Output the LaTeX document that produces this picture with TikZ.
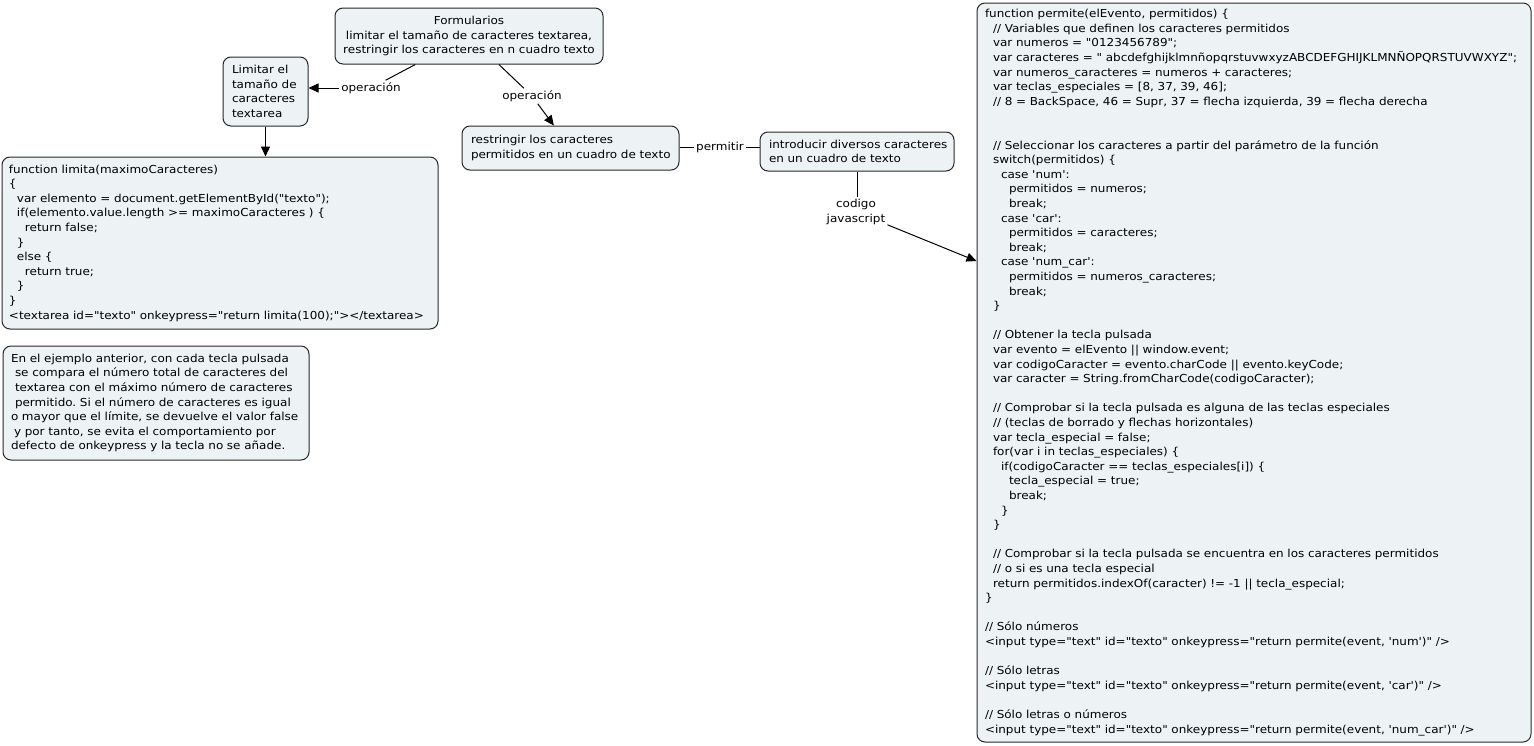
\documentclass[tikz,border=0pt]{standalone}
\usepackage{fontspec}
\setmainfont{DejaVu Sans}[Ligatures=TeXOff,FakeStretch=1.09]
\usetikzlibrary{arrows.meta}
\definecolor{boxfill}{RGB}{237,242,245}
\definecolor{boxline}{RGB}{40,40,40}
\newlength\indstep \setlength\indstep{8pt}
\newcommand{\cl}[2][0]{\mbox{\hspace*{#1\indstep}#2}}
\frenchspacing
\begin{document}
\begin{tikzpicture}[x=1pt,y=-1pt,
  box/.style={draw=boxline, line width=1pt, rounded corners=8pt, fill=boxfill,
    inner xsep=8pt, inner ysep=0pt, align=left,
    font=\fontsize{11}{14.6}\selectfont},
  lbl/.style={inner sep=2pt, font=\fontsize{11}{14.6}\selectfont, align=center},
  arr/.style={-{Triangle[length=10pt,width=9pt]}, line width=1pt, black},
  ln/.style={line width=1pt, black}]
\fill[white] (0,0) rectangle (1534,745);
\useasboundingbox (0,0) rectangle (1534,745);

% boxes
\node[box, align=center, inner xsep=0pt, text width=268pt, minimum height=56pt] (form) at (469,36)
  {Formularios\\limitar el tamaño de caracteres textarea,\\restringir los caracteres en n cuadro texto};

\node[box, inner xsep=9pt, text width=67pt, minimum height=69pt] (lim) at (265.5,91.5)
  {\cl{Limitar el}\\\cl{tamaño de}\\\cl{caracteres}\\\cl{textarea}};

\node[box, inner xsep=9pt, text width=199pt, minimum height=44pt] (res) at (570.5,148)
  {\cl{restringir los caracteres}\\\cl{permitidos en un cuadro de texto}};

\node[box, inner xsep=9pt, text width=176pt, minimum height=39pt] (intro) at (857,151.5)
  {\cl{introducir diversos caracteres}\\\cl{en un cuadro de texto}};

\node[box, inner xsep=7pt, text width=422pt, minimum height=172pt] (limita) at (220,243)
  {\cl{function limita(maximoCaracteres)}\\
   \cl{\{}\\
   \cl[1]{var elemento = document.getElementById("texto");}\\
   \cl[1]{if(elemento.value.length >= maximoCaracteres ) \{}\\
   \cl[2]{return false;}\\
   \cl[1]{\}}\\
   \cl[1]{else \{}\\
   \cl[2]{return true;}\\
   \cl[1]{\}}\\
   \cl{\}}\\
   \cl{<textarea id="texto" onkeypress="return limita(100);"></textarea>}};

\node[box, inner xsep=8pt, text width=290pt, minimum height=114pt] (expl) at (156,403)
  {\cl{En el ejemplo anterior, con cada tecla pulsada}\\
   \cl{\hspace*{4pt}se compara el número total de caracteres del}\\
   \cl{\hspace*{4pt}textarea con el máximo número de caracteres}\\
   \cl{\hspace*{4pt}permitido. Si el número de caracteres es igual}\\
   \cl{o mayor que el límite, se devuelve el valor false}\\
   \cl{\hspace*{3pt}y por tanto, se evita el comportamiento por}\\
   \cl{defecto de onkeypress y la tecla no se añade.}};

\node[box, inner xsep=8pt, text width=538pt, minimum height=739pt] (big) at (1254,372.5)
  {\cl{function permite(elEvento, permitidos) \{}\\
   \cl[1]{// Variables que definen los caracteres permitidos}\\
   \cl[1]{var numeros = "0123456789";}\\
   \cl[1]{var caracteres = " abcdefghijklmnñopqrstuvwxyzABCDEFGHIJKLMNÑOPQRSTUVWXYZ";}\\
   \cl[1]{var numeros\_caracteres = numeros + caracteres;}\\
   \cl[1]{var teclas\_especiales = [8, 37, 39, 46];}\\
   \cl[1]{// 8 = BackSpace, 46 = Supr, 37 = flecha izquierda, 39 = flecha derecha}\\
   \mbox{}\\
   \mbox{}\\
   \cl[1]{// Seleccionar los caracteres a partir del parámetro de la función}\\
   \cl[1]{switch(permitidos) \{}\\
   \cl[2]{case 'num':}\\
   \cl[3]{permitidos = numeros;}\\
   \cl[3]{break;}\\
   \cl[2]{case 'car':}\\
   \cl[3]{permitidos = caracteres;}\\
   \cl[3]{break;}\\
   \cl[2]{case 'num\_car':}\\
   \cl[3]{permitidos = numeros\_caracteres;}\\
   \cl[3]{break;}\\
   \cl[1]{\}}\\
   \mbox{}\\
   \cl[1]{// Obtener la tecla pulsada}\\
   \cl[1]{var evento = elEvento || window.event;}\\
   \cl[1]{var codigoCaracter = evento.charCode || evento.keyCode;}\\
   \cl[1]{var caracter = String.fromCharCode(codigoCaracter);}\\
   \mbox{}\\
   \cl[1]{// Comprobar si la tecla pulsada es alguna de las teclas especiales}\\
   \cl[1]{// (teclas de borrado y flechas horizontales)}\\
   \cl[1]{var tecla\_especial = false;}\\
   \cl[1]{for(var i in teclas\_especiales) \{}\\
   \cl[2]{if(codigoCaracter == teclas\_especiales[i]) \{}\\
   \cl[3]{tecla\_especial = true;}\\
   \cl[3]{break;}\\
   \cl[2]{\}}\\
   \cl[1]{\}}\\
   \mbox{}\\
   \cl[1]{// Comprobar si la tecla pulsada se encuentra en los caracteres permitidos}\\
   \cl[1]{// o si es una tecla especial}\\
   \cl[1]{return permitidos.indexOf(caracter) != -1 || tecla\_especial;}\\
   \cl{\}}\\
   \mbox{}\\
   \cl{// Sólo números}\\
   \cl{<input type="text" id="texto" onkeypress="return permite(event, 'num')" />}\\
   \mbox{}\\
   \cl{// Sólo letras}\\
   \cl{<input type="text" id="texto" onkeypress="return permite(event, 'car')" />}\\
   \mbox{}\\
   \cl{// Sólo letras o números}\\
   \cl{<input type="text" id="texto" onkeypress="return permite(event, 'num\_car')" />}};

% labels
\node[lbl] (op1) at (371,88) {operación};
\node[lbl] (op2) at (532,96) {operación};
\node[lbl] (perm) at (720,147) {permitir};
\node[lbl] (cod) at (856,212) {codigo\\javascript};

% connectors
\draw[ln] (form) -- (op1);
\draw[arr] (op1.west) -- (op1.west -| lim.east);
\draw[ln] (form) -- (op2);
\draw[arr] (op2) -- (res);
\draw[arr] (lim.south) -- (lim.south |- limita.north);
\draw[ln] (perm.west -| res.east) -- (perm.west);
\draw[ln] (perm.east) -- (perm.east -| intro.west);
\draw[ln] (intro.south) -- (intro.south |- cod.north);
\draw[arr] (cod) -- (big);
\end{tikzpicture}
\end{document}
